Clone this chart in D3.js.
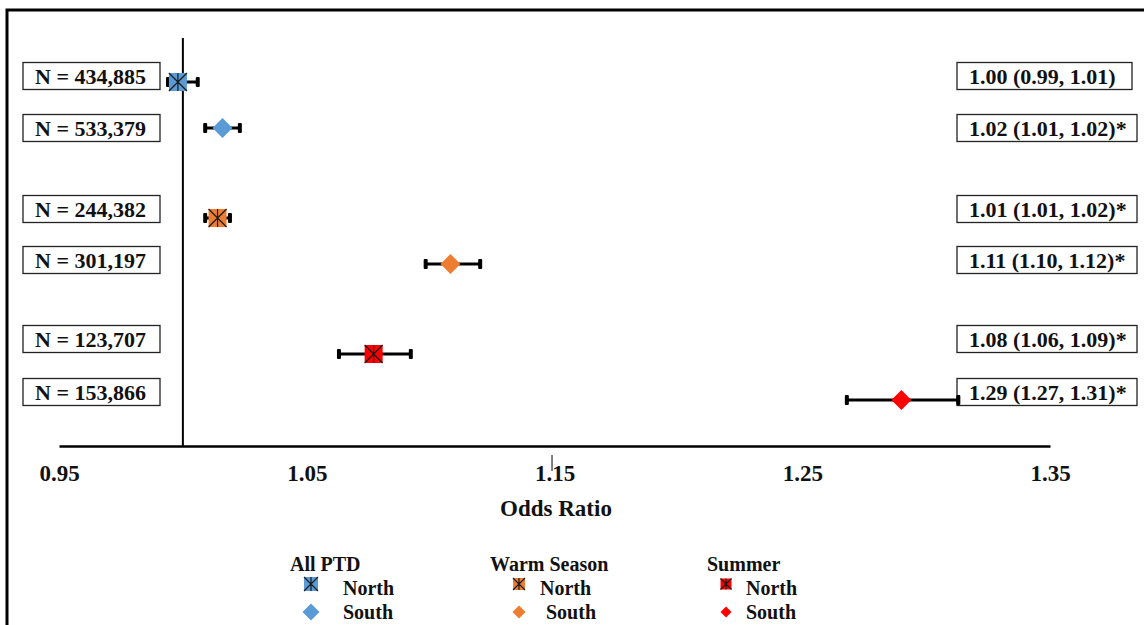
<!DOCTYPE html>
<html>
<head>
<meta charset="utf-8">
<script src="https://cdn.jsdelivr.net/npm/d3@7"></script>
<style>
  html, body { margin: 0; padding: 0; background: #fff; }
  svg { display: block; font-family: "Liberation Serif", "Times New Roman", serif; font-weight: bold; }
</style>
</head>
<body>
<svg id="chart" width="1144" height="625"></svg>
<script>
// Forest plot data: preterm delivery odds ratios by season subset and region
const groups   = ["All PTD", "Warm Season", "Summer"];
const regions  = ["North", "South"];
const rowGroup = ["All PTD", "All PTD", "Warm Season", "Warm Season", "Summer", "Summer"];
const rowRegion = ["North", "South", "North", "South", "North", "South"];
const sampleN  = [434885, 533379, 244382, 301197, 123707, 153866];
const oddsRatio = [0.998, 1.016, 1.014, 1.108, 1.077, 1.290];
const ciLower  = [0.994, 1.009, 1.009, 1.098, 1.063, 1.268];
const ciUpper  = [1.006, 1.023, 1.019, 1.120, 1.092, 1.313];
const significant = [false, true, true, true, true, true];
const xTicks   = [0.95, 1.05, 1.15, 1.25, 1.35];
const groupColors = ["#5B9BD5", "#ED7D31", "#FF0000"];

const svg = d3.select("#chart");
const fmt2 = d3.format(".2f");
const fmtN = d3.format(",");

// scales
const x = d3.scaleLinear().domain([0.95, 1.35]).range([59, 1050]);
const yGroup = d3.scalePoint().domain(groups).range([105, 377]);
const rowOffset = d3.scaleOrdinal().domain(regions).range([-23, 23]);
const color = d3.scaleOrdinal().domain(groups).range(groupColors);
const yRow = i => yGroup(rowGroup[i]) + rowOffset(rowRegion[i]);

const axisY = 446;

// outer frame (left and top edges)
svg.append("path")
  .attr("d", "M7,625V10H1144")
  .attr("fill", "none").attr("stroke", "#000").attr("stroke-width", 3);

// x axis
const xAxis = d3.axisBottom(x)
  .tickValues(xTicks)
  .tickFormat(fmt2)
  .tickSize(0)
  .tickSizeOuter(0)
  .tickPadding(19);
const gx = svg.append("g").attr("transform", `translate(0,${axisY})`).call(xAxis);
gx.select(".domain").attr("stroke", "#000").attr("stroke-width", 2.5);
gx.selectAll("text")
  .attr("font-family", "Liberation Serif, Times New Roman, serif")
  .attr("font-weight", "bold")
  .attr("font-size", 23)
  .attr("fill", "#111");

// stray hairline near the 1.15 label
svg.append("line")
  .attr("x1", x(1.149)).attr("x2", x(1.149))
  .attr("y1", axisY + 9).attr("y2", axisY + 25)
  .attr("stroke", "#000").attr("stroke-width", 1);

// axis title
svg.append("text")
  .attr("x", 556).attr("y", 516)
  .attr("text-anchor", "middle")
  .attr("font-size", 23).attr("fill", "#111")
  .text("Odds Ratio");

// reference line at OR = 1
svg.append("line")
  .attr("x1", x(1)).attr("x2", x(1))
  .attr("y1", 38).attr("y2", axisY)
  .attr("stroke", "#000").attr("stroke-width", 2);

const rows = d3.range(sampleN.length);

// annotation boxes: sample size on the left, estimate with CI on the right
const boxShift = [-6, 0, -9, -4, -15, -8];
const boxH = 27;
rows.forEach(i => {
  const cy = yRow(i) + boxShift[i];
  const left = svg.append("g").attr("transform", `translate(23,${cy - boxH / 2})`);
  left.append("rect").attr("width", 137).attr("height", boxH)
    .attr("fill", "#fff").attr("stroke", "#222").attr("stroke-width", 1.3);
  left.append("text").attr("x", 12).attr("y", 21)
    .attr("font-size", 22).attr("fill", "#111")
    .text(`N = ${fmtN(sampleN[i])}`);

  const right = svg.append("g").attr("transform", `translate(957,${cy - boxH / 2})`);
  right.append("rect").attr("width", i === 0 ? 175 : 180).attr("height", boxH)
    .attr("fill", "#fff").attr("stroke", "#222").attr("stroke-width", 1.3);
  right.append("text").attr("x", 12).attr("y", 21)
    .attr("font-size", 22).attr("fill", "#111")
    .text(`${fmt2(oddsRatio[i])} (${fmt2(ciLower[i])}, ${fmt2(ciUpper[i])})${significant[i] ? "*" : ""}`);
});

// confidence interval whiskers
const capW = 4, capH = 10;
const ci = svg.append("g");
rows.forEach(i => {
  const y = yRow(i);
  ci.append("line")
    .attr("x1", x(ciLower[i])).attr("x2", x(ciUpper[i]))
    .attr("y1", y).attr("y2", y)
    .attr("stroke", "#000").attr("stroke-width", 3);
  [ciLower[i], ciUpper[i]].forEach(v => {
    ci.append("rect")
      .attr("x", x(v) - capW / 2).attr("y", y - capH / 2)
      .attr("width", capW).attr("height", capH)
      .attr("rx", 1).attr("fill", "#000");
  });
});

// marker builders
function northMarker(g, cx, cy, s, fill) {
  const h = s / 2;
  g.append("rect").attr("x", cx - h).attr("y", cy - h).attr("width", s).attr("height", s)
    .attr("fill", fill);
  g.append("path")
    .attr("d", `M${cx - h},${cy - h}L${cx + h},${cy + h}M${cx + h},${cy - h}L${cx - h},${cy + h}M${cx},${cy - h}V${cy + h}`)
    .attr("stroke", "#1a1a1a").attr("stroke-width", 1.2).attr("fill", "none");
}
function southMarker(g, cx, cy, s, fill) {
  const h = s / 2;
  g.append("path")
    .attr("d", `M${cx},${cy - h}L${cx + h},${cy}L${cx},${cy + h}L${cx - h},${cy}Z`)
    .attr("fill", fill);
}

const marks = svg.append("g");
rows.forEach(i => {
  const fill = color(rowGroup[i]);
  if (rowRegion[i] === "North") northMarker(marks, x(oddsRatio[i]), yRow(i), 18, fill);
  else southMarker(marks, x(oddsRatio[i]), yRow(i), 20, fill);
});

// legend
const legendX = [290, 490, 707];
const markerDX = [21, 29, 19];
const labelDX = [[53, 53], [50, 56], [39, 39]];
const northSize = [14, 12, 11];
const southSize = [17, 13, 11];
const legend = svg.append("g");
groups.forEach((gname, k) => {
  const lx = legendX[k];
  legend.append("text").attr("x", lx).attr("y", 571)
    .attr("font-size", 20).attr("fill", "#111").text(gname);
  northMarker(legend, lx + markerDX[k], 584, northSize[k], color(gname));
  southMarker(legend, lx + markerDX[k], 612, southSize[k], color(gname));
  legend.append("text").attr("x", lx + labelDX[k][0]).attr("y", 595)
    .attr("font-size", 20).attr("fill", "#111").text("North");
  legend.append("text").attr("x", lx + labelDX[k][1]).attr("y", 619)
    .attr("font-size", 20).attr("fill", "#111").text("South");
});
</script>
</body>
</html>
